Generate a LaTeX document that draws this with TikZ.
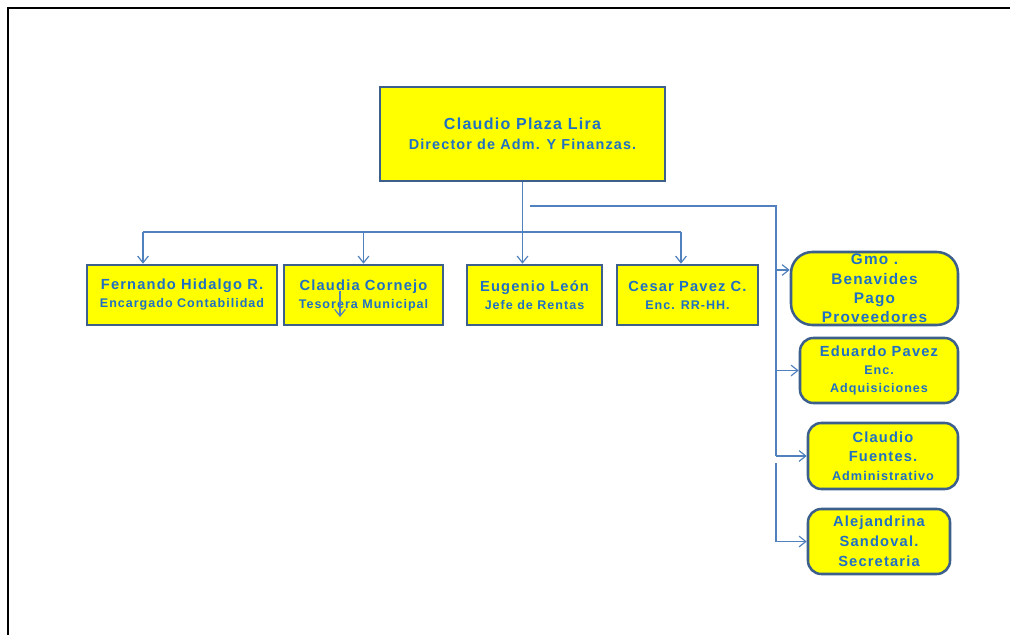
\documentclass[tikz,border=0pt]{standalone}
\usepackage{fontspec}
\setmainfont{Liberation Sans}[LetterSpace=8]
\usepackage{tikz}
\usetikzlibrary{arrows.meta,positioning}

\definecolor{txtblue}{HTML}{1F6FC4}
\definecolor{boxline}{HTML}{3C5F8C}
\definecolor{lineblue}{HTML}{5080BE}
\definecolor{boxfill}{HTML}{FFFF00}

\tikzset{
    chief/.style={draw=boxline, line width=1.9pt, fill=boxfill, text=txtblue,
        align=center, font=\bfseries, inner sep=0pt},
    staff/.style={chief, rounded corners=10pt},
    conn/.style={draw=lineblue, line width=0.9pt,
        -{Straight Barb[length=5pt,width=8pt,line width=0.9pt]}},
    wire/.style={draw=lineblue, line width=0.9pt},
}
\newcommand{\nm}{\fontsize{11}{14}\selectfont}
\newcommand{\rl}{\fontsize{9.4}{13}\selectfont}
\newcommand{\gm}{\fontsize{11.5}{14.5}\selectfont}

\begin{document}
\begin{tikzpicture}[x=0.75pt, y=-0.75pt]
    \useasboundingbox (0,0) rectangle (1010,635);
    \draw[line width=1.5pt] (8,635) -- (8,8) -- (1010,8);

    % director
    \node[chief, minimum width=285*0.75pt, minimum height=94*0.75pt] (dir) at (522.5,134)
        {\fontsize{12}{15}\selectfont Claudio Plaza Lira\\[3pt]
         \fontsize{10.8}{15}\selectfont Director de Adm. Y Finanzas.};

    % second row
    \node[chief, minimum width=190*0.75pt, minimum height=60*0.75pt] (fer) at (182,295)
        {\nm Fernando Hidalgo R.\\[1.5pt] \rl Encargado Contabilidad};
    \node[chief, minimum width=159*0.75pt, minimum height=60*0.75pt] (cla) at (363.5,295)
        {\nm Claudia Cornejo\\[1.5pt] \rl Tesorera Municipal};
    \node[chief, minimum width=135*0.75pt, minimum height=60*0.75pt] (eug) at (534.5,295)
        {\nm Eugenio León\\[1.5pt] \rl Jefe de Rentas};
    \node[chief, minimum width=141*0.75pt, minimum height=60*0.75pt] (ces) at (687.5,295)
        {\nm Cesar Pavez C.\\[1.5pt] \rl Enc. RR-HH.};

    % right column
    \node[staff, rounded corners=16pt, minimum width=167*0.75pt, minimum height=73*0.75pt] (gmo) at (874.5,288.5)
        {\gm Gmo .\\[2.5pt] \gm Benavides\\[2.5pt] \gm Pago\\[2.5pt] \gm Proveedores};
    \node[staff, minimum width=158*0.75pt, minimum height=65*0.75pt] (edu) at (879,370.5)
        {\nm Eduardo Pavez\\[1.5pt] \fontsize{9.4}{13}\selectfont Enc.\\[1.5pt] \fontsize{9.4}{13}\selectfont Adquisiciones};
    \node[staff, minimum width=150*0.75pt, minimum height=66*0.75pt] (fue) at (883,456)
        {\nm Claudio\\[2.2pt] \nm Fuentes.\\[2.2pt] \fontsize{9.5}{14}\selectfont Administrativo};
    \node[staff, minimum width=142*0.75pt, minimum height=65*0.75pt] (ale) at (879,541.5)
        {\nm Alejandrina\\[3pt] \nm Sandoval.\\[3pt] \nm Secretaria};

    % connectors
    \coordinate (busL) at (143,232);
    \coordinate (busR) at (681,232);
    \draw[wire] (busL) -- (busR);
    \draw[conn] (dir.south) -- (dir.south |- eug.north);
    \draw[conn] (busL) -- (busL |- fer.north);
    \draw[conn] (cla.north |- busL) -- (cla.north);
    \draw[conn] (busR) -- (busR |- ces.north);
    \coordinate (strayA) at (340,291);
    \coordinate (strayB) at (340,317);
    \draw[conn] (strayA) -- (strayB);

    \coordinate (sideA) at (530,206);
    \coordinate (sideB) at (776,206);
    \coordinate (sideC) at (776,463);
    \draw[wire] (sideA) -- (sideB) -- (sideB |- fue.west);
    \draw[conn] (sideB |- fue.west) -- (fue.west);
    \draw[conn] (776,270) -- (gmo.west |- 0,270);
    \draw[conn] (sideB |- edu.west) -- (edu.west);
    \draw[wire] (sideC) -- (sideC |- ale.west);
    \draw[conn] (sideC |- ale.west) -- (ale.west);
\end{tikzpicture}
\end{document}
